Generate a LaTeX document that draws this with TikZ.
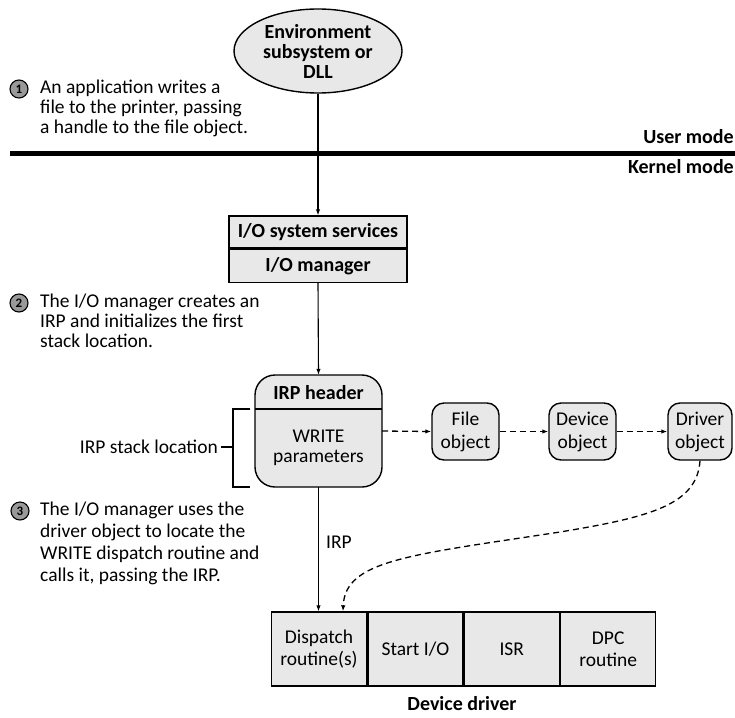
\documentclass[tikz,border=0pt]{standalone}
\usepackage{fontspec}
\setmainfont{Carlito}
\usetikzlibrary{arrows.meta,shapes.geometric}
\definecolor{boxfill}{gray}{0.91}
\definecolor{numfill}{gray}{0.6}
\newcommand{\rf}[1]{\fontsize{19.5}{#1}\selectfont}
\newcommand{\bfs}[1]{\fontsize{20}{#1}\selectfont\bfseries}
\begin{document}
\begin{tikzpicture}[x=1pt,y=-1pt,
  every node/.style={inner sep=0pt,font=\rf{20}},
  bold/.style={font=\bfs{20}},
  conn/.style={line width=1.1pt,-{Latex[length=6pt,width=4.5pt]}},
  dconn/.style={line width=1.3pt,dash pattern=on 6pt off 4pt,-{Latex[length=6pt,width=4.5pt]}},
  rbox/.style={draw,line width=1.4pt,fill=boxfill,rounded corners=12pt,minimum width=66pt,minimum height=57pt,align=center,font=\rf{23}},
  cell/.style={draw,line width=1.4pt,fill=boxfill,minimum width=95pt,minimum height=74pt,align=center,font=\rf{22}},
  num/.style={circle,draw,line width=1.1pt,fill=numfill,minimum size=18pt,font=\fontsize{13}{13}\selectfont\bfseries},
  steptxt/.style={anchor=north west,align=left}
]
\useasboundingbox (0,0) rectangle (735,717);

% ellipse
\node[ellipse,draw,line width=1.4pt,fill=boxfill,minimum width=168pt,minimum height=84pt,align=center,font=\bfs{20}] (env) at (318,51) {Environment\\subsystem or\\DLL};

% mode line
\coordinate (ml) at (10,153);
\coordinate (mr) at (735,153);
\draw[line width=5pt] (ml) -- (mr);
\node[bold,anchor=east] (um) at (734,137) {User mode};
\node[bold,anchor=east] (km) at (734,167) {Kernel mode};

% step 1
\node[num] (n1) at (19,89) {1};
\node[steptxt,font=\rf{20}] (s1) at (40,80) {An application writes a\\file to the printer, passing\\a handle to the file object.};

% I/O boxes
\node[draw,line width=1.4pt,fill=boxfill,minimum width=178pt,minimum height=32pt,bold] (sys) at (318,232) {I/O system services};
\node[draw,line width=1.4pt,fill=boxfill,minimum width=178pt,minimum height=33pt,bold,anchor=north] (mgr) at (sys.south) {I/O manager};

\draw[conn] (env.south) -- (sys.north);

% step 2
\node[num] (n2) at (19,303) {2};
\node[steptxt,font=\rf{20}] (s2) at (40,294) {The I/O manager creates an\\IRP and initializes the first\\stack location.};

% IRP box
\draw[line width=1.4pt,fill=boxfill,rounded corners=20pt] (255,375) rectangle (382,487);
\node[minimum width=127pt,minimum height=112pt] (irp) at (318.5,431) {};
\draw[line width=1.4pt] (255,409) -- (382,409);
\node[bold] (hdr) at (318.5,393) {IRP header};
\node[align=center,font=\rf{20}] (wp) at (318.5,448) {WRITE\\parameters};
\draw[conn] (mgr.south) -- (irp.north);

% bracket
\coordinate (bt) at (250,409);
\coordinate (bb) at (250,487);
\coordinate (bm) at (233,447);
\draw[line width=1.2pt] (bt) -- (233,409) -- (233,487) -- (bb);
\node[anchor=east] (stk) at (218,447) {IRP stack location};
\draw[line width=1.2pt] ([xshift=3pt]stk.east) -- (bm);

% objects
\node[rbox,minimum width=67pt] (file) at (465.5,431.5) {File\\object};
\node[rbox,minimum width=67pt] (dev) at (582.5,431.5) {Device\\object};
\node[rbox,minimum width=64pt] (drv) at (700,431.5) {Driver\\object};
\draw[dconn] (irp.east) -- (file.west);
\draw[dconn] (file.east) -- (dev.west);
\draw[dconn] (dev.east) -- (drv.west);

% step 3
\node[num] (n3) at (20,511) {3};
\node[steptxt,font=\rf{22}] (s3) at (40,502) {The I/O manager uses the\\driver object to locate the\\WRITE dispatch routine and\\calls it, passing the IRP.};

% device driver cells
\node[cell] (disp) at (319,649) {Dispatch\\routine(s)};
\node[cell,anchor=west] (sio) at (disp.east) {Start I/O};
\node[cell,anchor=west] (isr) at (sio.east) {ISR};
\node[cell,anchor=west] (dpc) at (isr.east) {DPC\\routine};
\node[bold] (dd) at (462,704) {Device driver};

\draw[conn] (irp.south) -- (irp.south |- disp.north);
\node[anchor=west] (irplbl) at (326,542) {IRP};

\coordinate (dtip) at ([xshift=24pt]disp.north);
\draw[dconn] (drv.south) .. controls (697,505) and (650,517) .. (560,532) .. controls (410,555) and (345,560) .. (dtip);
\end{tikzpicture}
\end{document}
